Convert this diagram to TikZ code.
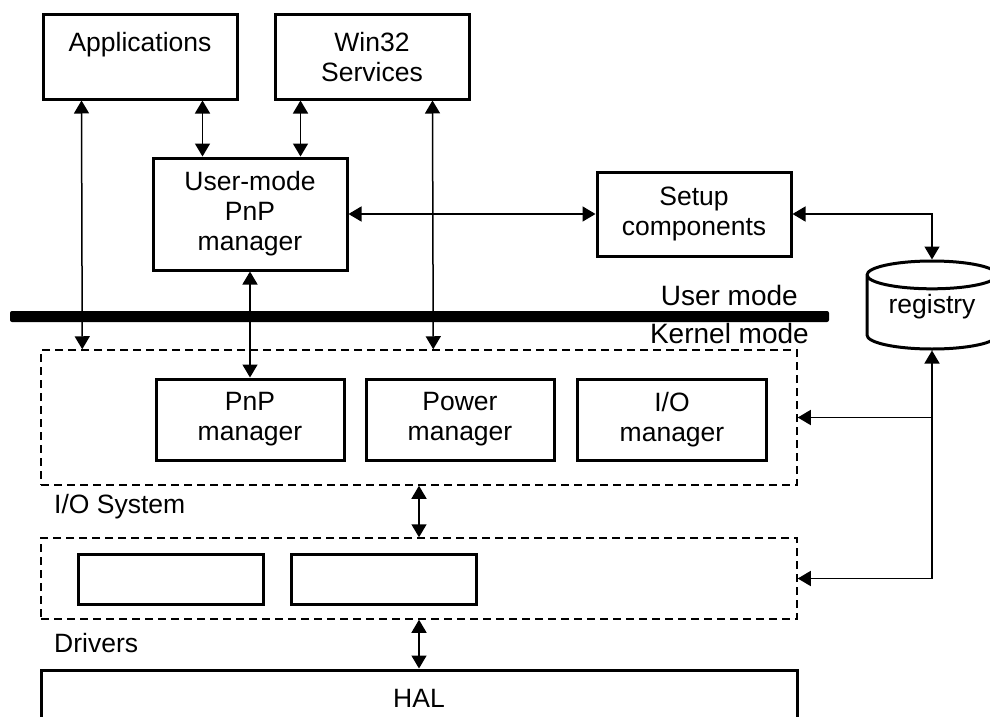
\documentclass[tikz,border=0pt]{standalone}
\usepackage{fontspec}
\setmainfont{Liberation Sans}
\usetikzlibrary{arrows.meta,shapes.geometric,calc}

\tikzset{
    box/.style={draw, line width=3pt, rectangle, inner sep=0pt, align=center,
        minimum width=194pt, minimum height=84pt},
    area/.style={draw, line width=1.5pt, dash pattern=on 8pt off 5pt, inner sep=0pt,
        minimum width=756pt},
    link/.style={line width=1.5pt},
    modelbl/.style={anchor=east, inner sep=0pt, font=\fontsize{28}{30}\selectfont},
    layerlbl/.style={anchor=west, inner sep=0pt}
}

\begin{document}
\begin{tikzpicture}[x=1pt,y=-1pt,>={Triangle[length=13pt,width=15pt]},
    font=\fontsize{26.5}{30}\selectfont]
    \clip (0,0) rectangle (990,717);
    \node[box] (apps) at (140,57) {Applications\\\phantom{A}};
    \node[box] (win) at (372,57) {Win32\\Services};
    \node[box, minimum height=112pt] (upnp) at (250,214) {User-mode\\PnP\\manager};
    \node[box] (setup) at (694,214) {Setup\\components};
    \node[cylinder, shape border rotate=90, draw, line width=3pt, aspect=0.32,
        minimum height=88pt, minimum width=130pt, inner sep=0pt, text depth=17pt,
        anchor=shape center] (reg) at (932,305) {registry};%注册表画成圆柱
    \fill[rounded corners=2pt] (10,311) rectangle (829,322);%用户态与内核态的分界线
    \node[modelbl] (um) at (798,295) {User mode};
    \node[modelbl] (km) at (809,333) {Kernel mode};
    \node[area, minimum height=135pt] (sys) at (419,417.5) {};
    \node[box, minimum width=188pt, minimum height=81pt] (pnp) at (250,419.5) {PnP\\manager};
    \node[box, minimum width=188pt, minimum height=81pt] (power) at (460,419.5) {Power\\manager};
    \node[box, minimum width=189pt, minimum height=81pt] (io) at (672,419.5) {I/O\\manager};
    \node[layerlbl] (syslbl) at (54,507) {I/O System};
    \node[area, minimum height=81pt] (drv) at (419,578.5) {};
    \node[box, minimum width=185pt, minimum height=50pt] (drva) at (170.5,579) {};
    \node[box, minimum width=185pt, minimum height=50pt] (drvb) at (383.5,579) {};
    \node[layerlbl] (drvlbl) at (54,643) {Drivers};
    \node[box, minimum width=756pt, minimum height=56pt] (hal) at (419,698) {HAL};
    \draw[link,<->] ($(apps.south west)+(40,0)$) -- ($(sys.north west)+(42,0)$);
    \draw[link,<->] ($(apps.south west)+(161,0)$) -- ($(upnp.north west)+(51,0)$);
    \draw[link,<->] ($(win.south west)+(27,0)$) -- ($(upnp.north west)+(149,0)$);
    \draw[link,<->] ($(win.south west)+(159,0)$) -- ($(sys.north west)+(393,0)$);
    \draw[link,<->] (upnp) -- (pnp);
    \draw[link,<->] (upnp) -- (setup);
    \draw[link,<->] (setup.east) -| (reg.north);
    \draw[link,<->] (drv.east) -| (reg.south);%从注册表引到两层
    \draw[link,->] (sys.east -| reg.south) -- (sys.east);
    \draw[link,<->] (sys) -- (drv);
    \draw[link,<->] (drv) -- (hal);
\end{tikzpicture}
\end{document}
